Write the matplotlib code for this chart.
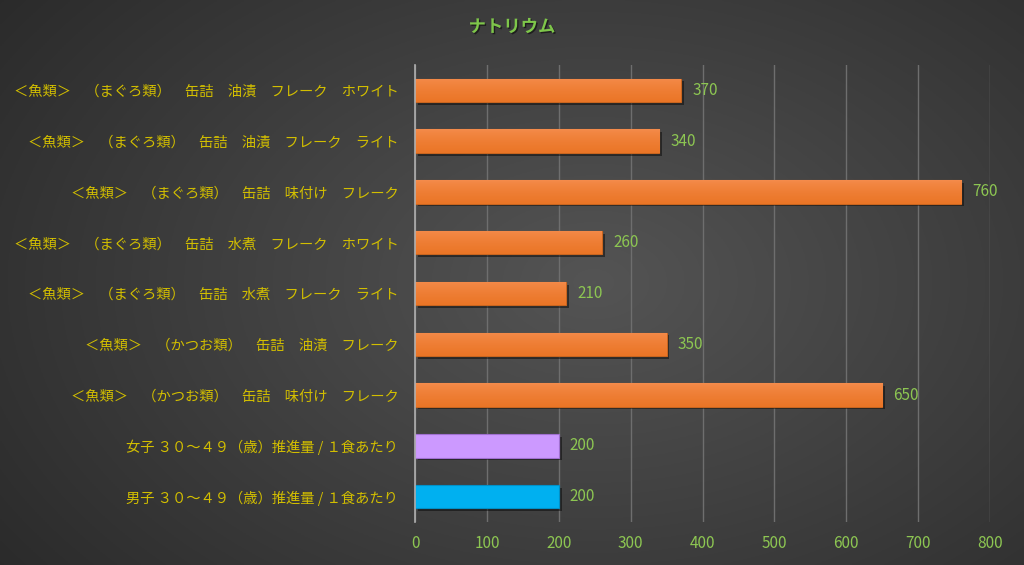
import matplotlib.pyplot as plt
import matplotlib.patheffects as pe
import numpy as np

plt.rcParams['font.family'] = ['Noto Sans CJK JP', 'DejaVu Sans']

# Data, top to bottom as shown in the chart
labels = [
    "＜魚類＞　（まぐろ類）　缶詰　油漬　フレーク　ホワイト",
    "＜魚類＞　（まぐろ類）　缶詰　油漬　フレーク　ライト",
    "＜魚類＞　（まぐろ類）　缶詰　味付け　フレーク",
    "＜魚類＞　（まぐろ類）　缶詰　水煮　フレーク　ホワイト",
    "＜魚類＞　（まぐろ類）　缶詰　水煮　フレーク　ライト",
    "＜魚類＞　（かつお類）　缶詰　油漬　フレーク",
    "＜魚類＞　（かつお類）　缶詰　味付け　フレーク",
    "女子 ３０～４９（歳）推進量 / １食あたり",
    "男子 ３０～４９（歳）推進量 / １食あたり",
]
values = [370, 340, 760, 260, 210, 350, 650, 200, 200]
bar_colors = ["#ED7D31"] * 7 + ["#CC99FF", "#00B0F0"]
x_ticks = [0, 100, 200, 300, 400, 500, 600, 700, 800]

label_color = "#D2BE00"
num_color = "#8DC652"

fig = plt.figure(figsize=(10.24, 5.65), dpi=100)

# radial dark background
bg = fig.add_axes([0, 0, 1, 1], zorder=-10)
yy, xx = np.mgrid[0:1:300j, 0:1:500j]
r = np.sqrt(((xx - 0.58) / 0.75) ** 2 + ((yy - 0.5) / 0.9) ** 2)
shade = np.clip(0.33 - 0.17 * r, 0.15, 0.33)
bg.imshow(np.dstack([shade] * 3), extent=[0, 1, 0, 1], aspect='auto', origin='lower')
bg.axis('off')

ax = fig.add_axes([0.4053, 0.0761, 0.5615, 0.809])
ax.set_facecolor('none')

y = np.arange(len(values))
bars = ax.barh(y, values, height=0.46, color=bar_colors, zorder=3,
               edgecolor=['#C8651F'] * 7 + ['#A070D0', '#0090C8'], linewidth=0.8)
for b in bars:
    b.set_path_effects([pe.SimplePatchShadow(offset=(2, -2), shadow_rgbFace='black', alpha=0.45),
                        pe.Normal()])

# orange gradient overlay (lighter at top)
grad = np.linspace(0, 1, 50).reshape(-1, 1)
top = np.array([0.96, 0.55, 0.30])
bot = np.array([0.92, 0.46, 0.15])
for b, c in zip(bars, bar_colors):
    if c != "#ED7D31":
        continue
    x0, y0 = b.get_x(), b.get_y()
    w, h = b.get_width(), b.get_height()
    img = top + (bot - top) * grad[..., None] ** 0.7
    im = ax.imshow(img, extent=[x0, x0 + w, y0 + h, y0], aspect='auto', zorder=4, origin='upper')
    im.set_clip_path(b)

ax.bar_label(bars, labels=[str(v) for v in values], padding=8, color=num_color, fontsize=11)

ax.set_xlim(0, 800)
ax.set_ylim(len(values) - 0.5, -0.5)
ax.set_xticks(x_ticks)
ax.set_yticks(y)
ax.set_yticklabels(labels, color=label_color, fontsize=10.3)
ax.tick_params(axis='x', colors=num_color, labelsize=11, length=0, pad=9)
ax.tick_params(axis='y', length=0, pad=12)
ax.grid(axis='x', color='#6E6E6E', linewidth=1, zorder=0)
for s in ['top', 'right', 'bottom']:
    ax.spines[s].set_visible(False)
ax.spines['left'].set_color('#B0B0B0')
ax.spines['left'].set_linewidth(1.2)
ax.spines['left'].set_zorder(5)

fig.text(0.5, 0.952, "ナトリウム", ha='center', va='center', color='#7EC64A',
         fontsize=12.5, fontweight='bold',
         path_effects=[pe.withSimplePatchShadow(offset=(1, -1), shadow_rgbFace='black', alpha=0.5)])

fig.savefig("out.png", dpi=100)
